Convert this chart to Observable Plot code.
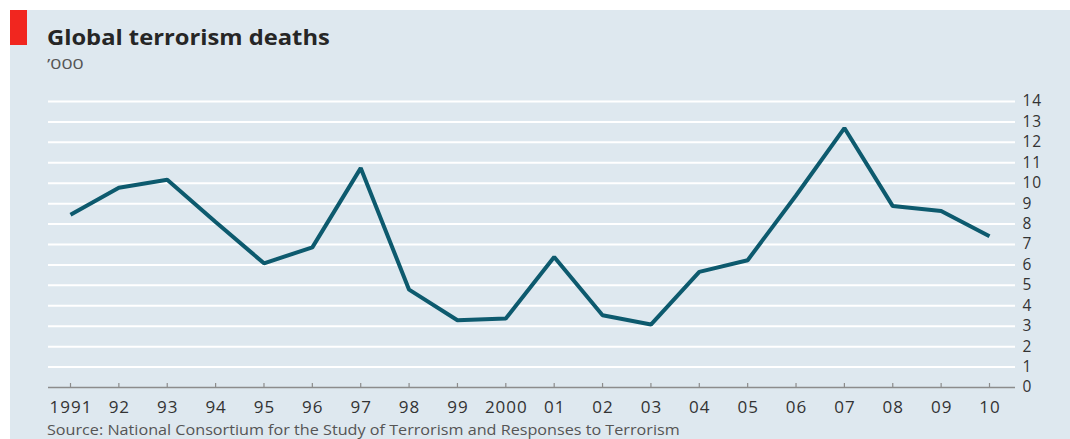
<!DOCTYPE html>
<html>
<head>
<meta charset="utf-8">
<script src="https://cdn.jsdelivr.net/npm/d3@7"></script>
<script src="https://cdn.jsdelivr.net/npm/@observablehq/plot@0.6"></script>
<style>
  html, body { margin: 0; padding: 0; background: #ffffff; }
  #wrap { position: relative; width: 1070px; height: 439px; overflow: hidden; font-family: "Open Sans", sans-serif; }
  #panel { position: absolute; left: 10px; top: 10px; width: 1060px; height: 429px; background: #dee8ef; }
  #redbar { position: absolute; left: 10px; top: 10px; width: 17px; height: 35px; background: #f1261f; }
  #title { position: absolute; left: 47px; top: 23px; font-size: 21px; font-weight: 700; color: #262626; white-space: nowrap; transform: scaleX(1.13); transform-origin: left top; }
  #subtitle { position: absolute; left: 47px; top: 53px; font-size: 15px; color: #555; white-space: nowrap; transform: scaleX(1.3); transform-origin: left top; }
  #source { position: absolute; left: 47px; top: 420px; font-size: 14px; color: #555; white-space: nowrap; transform: scaleX(1.155); transform-origin: left top; }
  #chart { position: absolute; left: 0; top: 0; }
  #chart g[aria-label="x-axis tick label"] text { letter-spacing: 1px; }
  #chart g[aria-label="y-axis tick label"] text { letter-spacing: 1px; }
</style>
</head>
<body>
<div id="wrap">
  <div id="panel"></div>
  <div id="redbar"></div>
  <div id="title">Global terrorism deaths</div>
  <div id="subtitle">’000</div>
  <div id="chart"></div>
  <div id="source">Source: National Consortium for the Study of Terrorism and Responses to Terrorism</div>
</div>
<script>
const years = [1991, 1992, 1993, 1994, 1995, 1996, 1997, 1998, 1999, 2000,
               2001, 2002, 2003, 2004, 2005, 2006, 2007, 2008, 2009, 2010];
const deaths = [8.46, 9.78, 10.17, 8.1, 6.08, 6.86, 10.74, 4.79, 3.29, 3.38,
                6.39, 3.54, 3.08, 5.66, 6.23, 9.4, 12.7, 8.88, 8.64, 7.4];
const xTickLabels = ["1991", "92", "93", "94", "95", "96", "97", "98", "99", "2000",
                     "01", "02", "03", "04", "05", "06", "07", "08", "09", "10"];
const yTicks = [0, 1, 2, 3, 4, 5, 6, 7, 8, 9, 10, 11, 12, 13, 14];

const data = years.map((y, i) => ({year: y, value: deaths[i]}));
const labelOf = new Map(years.map((y, i) => [y, xTickLabels[i]]));

const chart = Plot.plot({
  width: 1070,
  height: 439,
  marginLeft: 48,
  marginRight: 55,
  marginTop: 101,
  marginBottom: 52,
  style: {background: "transparent", fontFamily: "Open Sans, sans-serif"},
  x: {type: "linear", domain: [1991, 2010], insetLeft: 22, insetRight: 26},
  y: {domain: [0, 14]},
  marks: [
    Plot.ruleY(yTicks.filter(d => d > 0), {y: d => d, stroke: "#ffffff", strokeWidth: 2}),
    Plot.ruleY([0], {y: d => d, stroke: "#8c8c8c", strokeWidth: 1.5}),
    Plot.ruleX(years, {x: d => d, y1: 0, y2: 0, insetTop: -4, stroke: "#8c8c8c", strokeWidth: 1.2}),
    Plot.axisX({ticks: years, tickSize: 0, tickPadding: 13, tickFormat: d => labelOf.get(d),
                fontSize: 17, fill: "#333", label: null, dx: 0.5}),
    Plot.axisY({anchor: "right", ticks: yTicks, tickSize: 0, tickPadding: 7, textAnchor: "start",
                fontSize: 15.5, fill: "#333", label: null}),
    Plot.line(data, {x: "year", y: "value", stroke: "#0d5a6e", strokeWidth: 4, strokeLinejoin: "miter", strokeLinecap: "butt"})
  ]
});
document.getElementById("chart").appendChild(chart);
</script>
</body>
</html>
